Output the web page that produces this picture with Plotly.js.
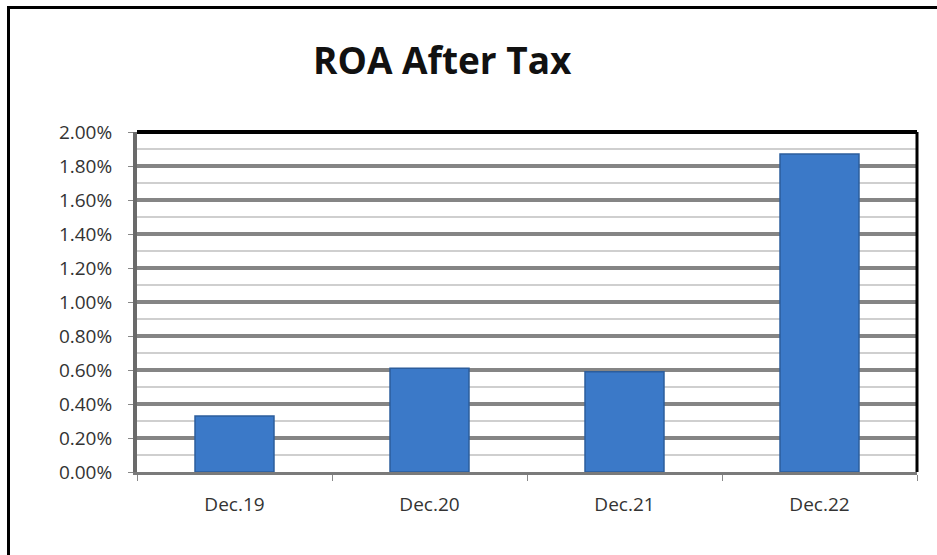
<!DOCTYPE html>
<html>
<head>
<meta charset="utf-8">
<script src="https://cdn.plot.ly/plotly-3.0.1.min.js"></script>
<style>
  html, body { margin: 0; padding: 0; background: #fff; overflow: hidden; }
  #frame {
    position: absolute; left: 7px; top: 6px; width: 1000px; height: 600px;
    border: 3px solid #000;
  }
  #chart { position: absolute; left: 0; top: 0; width: 937px; height: 555px; }
</style>
</head>
<body>
<div id="frame"></div>
<div id="chart"></div>
<script>
// ROA after tax, per year end
let periods = ["Dec.19", "Dec.20", "Dec.21", "Dec.22"];
let roa = [0.0033, 0.0061, 0.0059, 0.0187];
let y_ticks = [0, 0.002, 0.004, 0.006, 0.008, 0.010, 0.012, 0.014, 0.016, 0.018, 0.020];

let trace_roa = {
  x: periods,
  y: roa,
  type: 'bar',
  width: 0.405,
  marker: {
    color: '#3b79c8',
    line: { color: '#2c5d9c', width: 1.5 }
  },
  hoverinfo: 'x+y'
};

let layout = {
  width: 937,
  height: 555,
  margin: { l: 137, r: 20, t: 132, b: 83 },
  paper_bgcolor: 'rgba(0,0,0,0)',
  plot_bgcolor: '#fff',
  showlegend: false,
  font: { family: '"Open Sans", Lato, sans-serif', size: 19, color: '#333' },
  title: {
    text: '<b>ROA After Tax</b>',
    font: { family: '"Open Sans", Lato, sans-serif', size: 37, color: '#111' },
    x: 0.472,
    xanchor: 'center',
    y: 0.89,
    yanchor: 'middle'
  },
  xaxis: {
    type: 'category',
    showgrid: false,
    showline: true,
    linecolor: '#7a7a7a',
    linewidth: 3,
    ticks: 'outside',
    tickson: 'boundaries',
    ticklen: 6,
    tickcolor: '#888',
    tickwidth: 1,
    ticklabelstandoff: 13,
    tickfont: { size: 19 }
  },
  yaxis: {
    range: [0, 0.02],
    tickvals: y_ticks,
    tickformat: '.2%',
    showgrid: true,
    gridcolor: '#858585',
    gridwidth: 4,
    zeroline: false,
    showline: true,
    linecolor: '#6a6a6a',
    linewidth: 4,
    ticks: 'outside',
    ticklen: 5,
    tickcolor: '#888',
    ticklabelstandoff: 12,
    tickfont: { size: 19 },
    minor: {
      dtick: 0.001,
      showgrid: true,
      gridcolor: '#cfcfcf',
      gridwidth: 2
    }
  },
  shapes: [
    { type: 'line', xref: 'paper', yref: 'paper', x0: 0, x1: 1, y0: 1, y1: 1,
      line: { color: '#000', width: 4 } },
    { type: 'line', xref: 'paper', yref: 'paper', x0: 1, x1: 1, y0: 0, y1: 1,
      line: { color: '#000', width: 3 } }
  ]
};

Plotly.newPlot('chart', [trace_roa], layout, { displayModeBar: false, staticPlot: true });
</script>
</body>
</html>
